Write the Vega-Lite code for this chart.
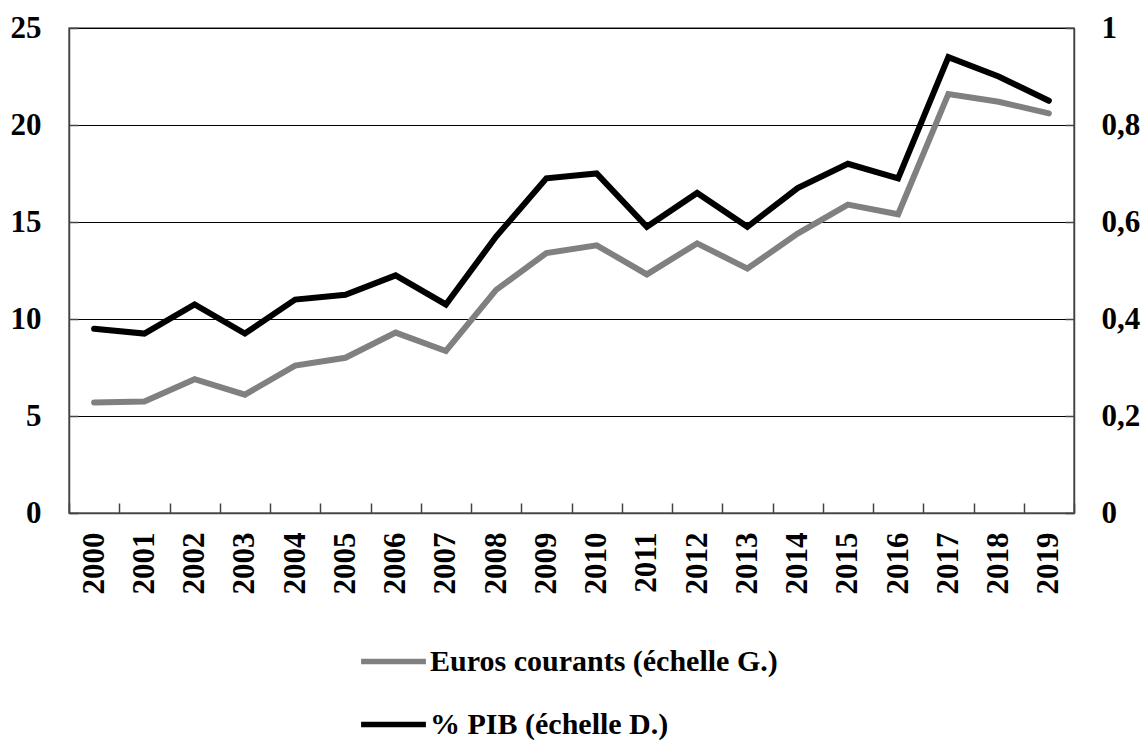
{
  "$schema": "https://vega.github.io/schema/vega-lite/v6.json",
  "width": 1005,
  "height": 485,
  "autosize": {"type": "none"},
  "padding": {"left": 69, "top": 28, "right": 71, "bottom": 230},
  "background": "white",
  "config": {
    "font": "Liberation Serif",
    "view": {"stroke": "#666666", "strokeWidth": 1.5},
    "axis": {
      "labelFont": "Liberation Serif",
      "labelFontWeight": "bold",
      "labelFontSize": 31,
      "labelColor": "black",
      "domainColor": "#444444",
      "domainWidth": 1.5,
      "tickColor": "#444444",
      "tickWidth": 1.5,
      "title": null
    },
    "legend": {
      "labelFont": "Liberation Serif",
      "labelFontWeight": "bold",
      "labelFontSize": 30,
      "labelColor": "black",
      "labelLimit": 0
    }
  },
  "data": {
    "values": [
      {"year": "2000", "euros": 5.7, "pib": 0.38},
      {"year": "2001", "euros": 5.75, "pib": 0.37},
      {"year": "2002", "euros": 6.9, "pib": 0.43},
      {"year": "2003", "euros": 6.1, "pib": 0.37},
      {"year": "2004", "euros": 7.6, "pib": 0.44},
      {"year": "2005", "euros": 8.0, "pib": 0.45},
      {"year": "2006", "euros": 9.3, "pib": 0.49},
      {"year": "2007", "euros": 8.35, "pib": 0.43},
      {"year": "2008", "euros": 11.5, "pib": 0.57},
      {"year": "2009", "euros": 13.4, "pib": 0.69},
      {"year": "2010", "euros": 13.8, "pib": 0.70},
      {"year": "2011", "euros": 12.3, "pib": 0.59},
      {"year": "2012", "euros": 13.9, "pib": 0.66},
      {"year": "2013", "euros": 12.6, "pib": 0.59},
      {"year": "2014", "euros": 14.4, "pib": 0.67},
      {"year": "2015", "euros": 15.9, "pib": 0.72},
      {"year": "2016", "euros": 15.4, "pib": 0.69},
      {"year": "2017", "euros": 21.6, "pib": 0.94},
      {"year": "2018", "euros": 21.2, "pib": 0.90},
      {"year": "2019", "euros": 20.6, "pib": 0.85}
    ]
  },
  "encoding": {
    "x": {
      "field": "year",
      "type": "ordinal",
      "scale": {"type": "band", "paddingInner": 0, "paddingOuter": 0},
      "axis": {
        "labelAngle": 270,
        "labelPadding": 29,
        "tickBand": "extent",
        "tickSize": -10,
        "grid": false
      }
    },
    "color": {
      "scale": {
        "domain": ["Euros courants (échelle G.)", "% PIB (échelle D.)"],
        "range": ["#808080", "#000000"]
      },
      "legend": {
        "orient": "none",
        "legendX": 289,
        "legendY": 598,
        "direction": "vertical",
        "title": null,
        "symbolType": "stroke",
        "symbolSize": 4200,
        "symbolStrokeWidth": 5.5,
        "rowPadding": 12,
        "labelOffset": 1
      }
    }
  },
  "layer": [
    {
      "mark": {"type": "line", "strokeWidth": 6, "strokeCap": "round", "strokeJoin": "miter"},
      "encoding": {
        "y": {
          "field": "euros",
          "type": "quantitative",
          "scale": {"domain": [0, 25], "nice": false},
          "axis": {
            "orient": "left",
            "values": [0, 5, 10, 15, 20, 25],
            "grid": true,
            "gridColor": "#000000",
            "gridWidth": 1,
            "tickSize": -9,
            "labelPadding": 37
          }
        },
        "color": {"datum": "Euros courants (échelle G.)"}
      }
    },
    {
      "mark": {"type": "line", "strokeWidth": 6, "strokeCap": "round", "strokeJoin": "miter"},
      "encoding": {
        "y": {
          "field": "pib",
          "type": "quantitative",
          "scale": {"domain": [0, 1], "nice": false},
          "axis": {
            "orient": "right",
            "values": [0, 0.2, 0.4, 0.6, 0.8, 1],
            "labelExpr": "replace(format(datum.value, '.1~f'), '.', ',')",
            "grid": false,
            "tickSize": -9,
            "labelPadding": 36
          }
        },
        "color": {"datum": "% PIB (échelle D.)"}
      }
    }
  ],
  "resolve": {"scale": {"y": "independent"}}
}
